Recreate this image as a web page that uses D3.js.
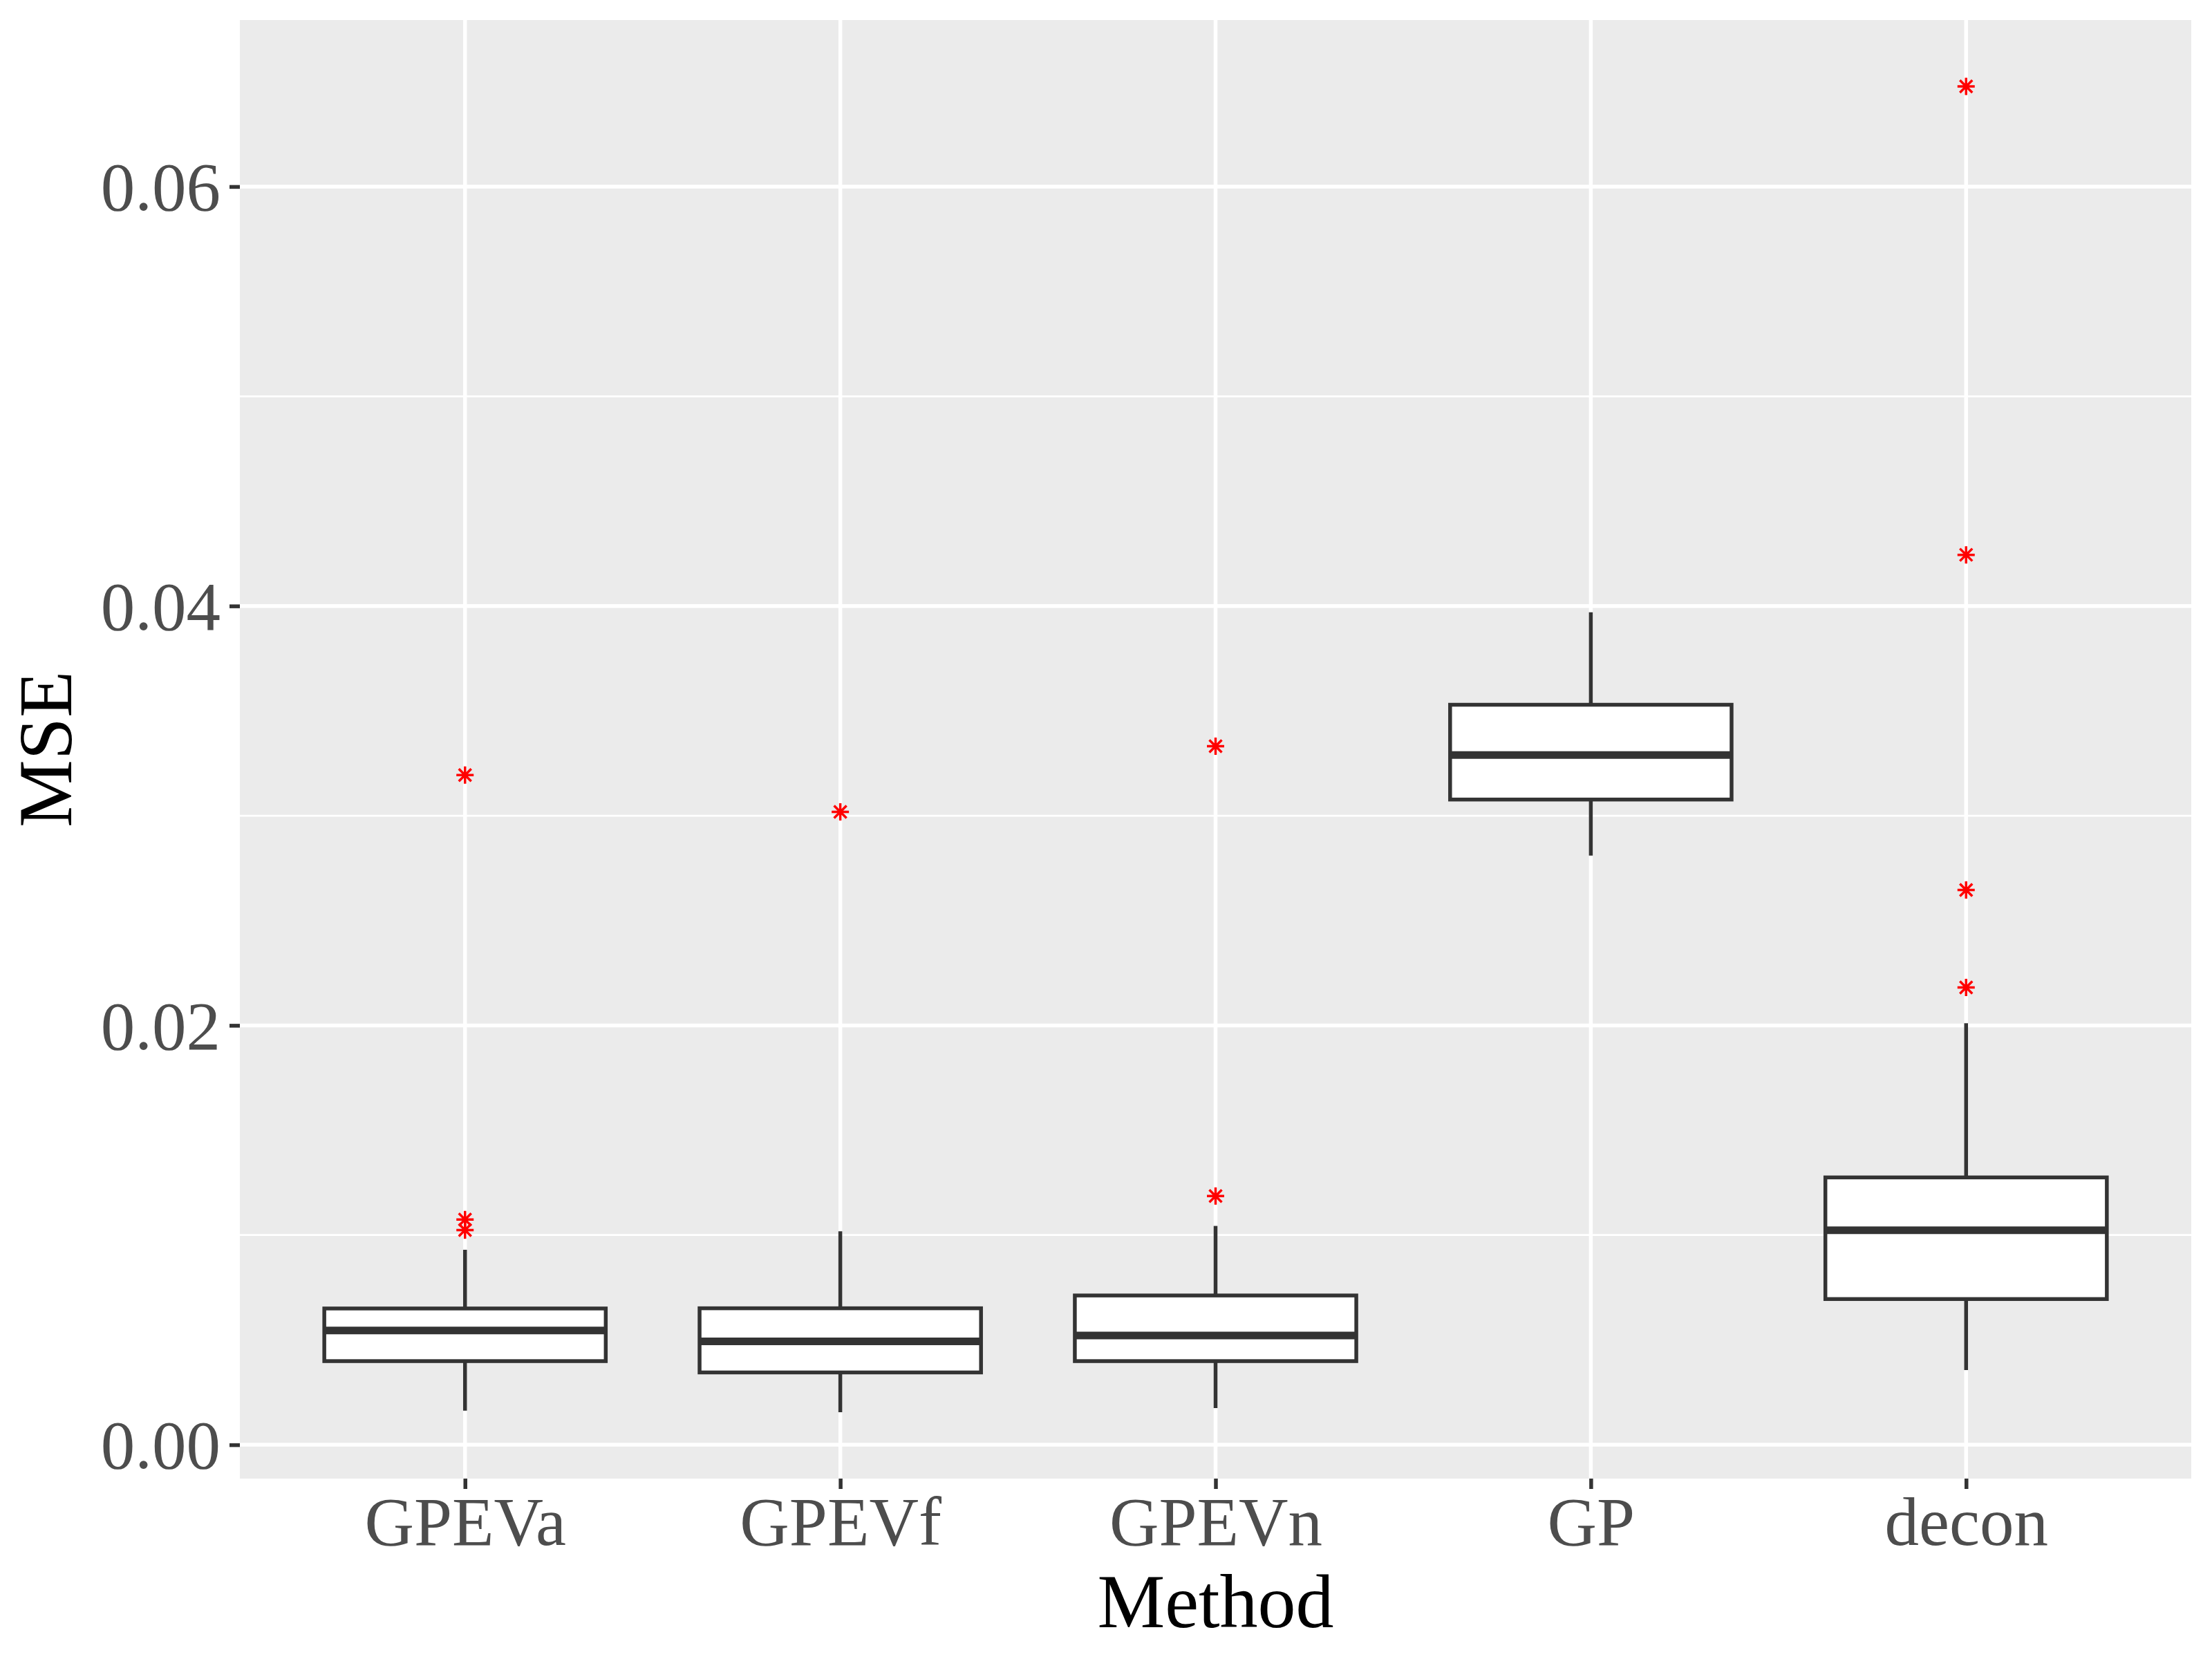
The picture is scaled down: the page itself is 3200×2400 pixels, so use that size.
<!DOCTYPE html>
<html>
<head>
<meta charset="utf-8">
<script src="https://cdn.jsdelivr.net/npm/d3@7"></script>
<style>
    body { margin: 0; background: #ffffff; }
    text { font-family: "Liberation Serif", "DejaVu Serif", serif; }
</style>
</head>
<body>
<svg id="chart" width="3200" height="2400"></svg>
<script>
// box summaries
const methods = ["GPEVa", "GPEVf", "GPEVn", "GP", "decon"];
const whiskerLow = [0.00163, 0.00155, 0.00175, 0.0281, 0.00356];
const q1 = [0.00399, 0.00345, 0.00399, 0.03077, 0.00695];
const median = [0.00545, 0.00493, 0.00521, 0.03289, 0.01023];
const q3 = [0.0065, 0.00651, 0.00712, 0.03529, 0.01275];
const whiskerHigh = [0.0093, 0.01018, 0.01044, 0.0397, 0.0201];
const outliers = [
    [0.01024, 0.01074, 0.03194],
    [0.03018],
    [0.01186, 0.03331],
    [],
    [0.02181, 0.02646, 0.04244, 0.06478]
];
const yTicks = [0, 0.02, 0.04, 0.06];
const yMinor = [0.01, 0.03, 0.05];

const attr = {
    width: 3200,
    height: 2400,
    panel: { left: 347, right: 3170, top: 29, bottom: 2139 },
    tickFont: 99,
    titleFont: 110,
    line: 5.5,
    star: 12.5
};

const translate = function(a, b) {
    return "translate(" + a + ", " + b + ")";
};

// ggplot shape 8: a plus and a cross on top of each other
const asterisk = function(r) {
    let d = r * 0.72;
    return "M" + -r + ",0L" + r + ",0" +
        "M0," + -r + "L0," + r +
        "M" + -d + "," + -d + "L" + d + "," + d +
        "M" + -d + "," + d + "L" + d + "," + -d;
};

const rows = methods.map(function(m, i) {
    return {
        name: m,
        low: whiskerLow[i],
        q1: q1[i],
        median: median[i],
        q3: q3[i],
        high: whiskerHigh[i],
        out: outliers[i]
    };
});

const allValues = rows.flatMap(d => [d.low, d.high].concat(d.out));
const lo = d3.min(allValues);
const hi = d3.max(allValues);
const pad = (hi - lo) * 0.05;

const x = d3
    .scalePoint()
    .domain(methods)
    .range([attr.panel.left, attr.panel.right])
    .padding(0.6);

const y = d3
    .scaleLinear()
    .domain([lo - pad, hi + pad])
    .range([attr.panel.bottom, attr.panel.top]);

const boxWidth = x.step() * 0.75;

const svg = d3.select("#chart");

svg.append("rect")
    .attr("width", attr.width)
    .attr("height", attr.height)
    .attr("fill", "#ffffff");

// panel and grid
svg.append("rect")
    .attr("x", attr.panel.left)
    .attr("y", attr.panel.top)
    .attr("width", attr.panel.right - attr.panel.left)
    .attr("height", attr.panel.bottom - attr.panel.top)
    .attr("fill", "#EBEBEB");

let grid = svg.append("g");

grid.selectAll(".minor")
    .data(yMinor)
    .enter()
    .append("line")
    .attr("x1", attr.panel.left)
    .attr("x2", attr.panel.right)
    .attr("y1", d => y(d))
    .attr("y2", d => y(d))
    .attr("stroke", "#ffffff")
    .attr("stroke-width", attr.line / 2);

grid.selectAll(".major")
    .data(yTicks)
    .enter()
    .append("line")
    .attr("x1", attr.panel.left)
    .attr("x2", attr.panel.right)
    .attr("y1", d => y(d))
    .attr("y2", d => y(d))
    .attr("stroke", "#ffffff")
    .attr("stroke-width", attr.line);

grid.selectAll(".vmajor")
    .data(methods)
    .enter()
    .append("line")
    .attr("x1", d => x(d))
    .attr("x2", d => x(d))
    .attr("y1", attr.panel.top)
    .attr("y2", attr.panel.bottom)
    .attr("stroke", "#ffffff")
    .attr("stroke-width", attr.line);

// boxes
let boxes = svg
    .append("g")
    .selectAll("g")
    .data(rows)
    .enter()
    .append("g")
    .attr("transform", d => translate(x(d.name), 0));

boxes.append("line")
    .attr("y1", d => y(d.low))
    .attr("y2", d => y(d.high))
    .attr("stroke", "#333333")
    .attr("stroke-width", attr.line);

boxes.append("rect")
    .attr("x", -boxWidth / 2)
    .attr("width", boxWidth)
    .attr("y", d => y(d.q3))
    .attr("height", d => y(d.q1) - y(d.q3))
    .attr("fill", "#ffffff")
    .attr("stroke", "#333333")
    .attr("stroke-width", attr.line);

boxes.append("line")
    .attr("x1", -boxWidth / 2)
    .attr("x2", boxWidth / 2)
    .attr("y1", d => y(d.median))
    .attr("y2", d => y(d.median))
    .attr("stroke", "#333333")
    .attr("stroke-width", attr.line * 2);

boxes.selectAll("path")
    .data(d => d.out)
    .enter()
    .append("path")
    .attr("d", asterisk(attr.star))
    .attr("transform", d => translate(0, y(d)))
    .attr("fill", "none")
    .attr("stroke", "#FF0000")
    .attr("stroke-width", 3.5);

// axes
let yAxis = svg
    .append("g")
    .attr("transform", translate(attr.panel.left, 0))
    .call(
        d3.axisLeft(y)
            .tickValues(yTicks)
            .tickFormat(d3.format(".2f"))
            .tickSize(15)
            .tickPadding(13)
    );

let xAxis = svg
    .append("g")
    .attr("transform", translate(0, attr.panel.bottom))
    .call(d3.axisBottom(x).tickSize(15).tickPadding(10));

[yAxis, xAxis].forEach(function(axis) {
    axis.select(".domain").remove();
    axis.selectAll(".tick line")
        .attr("stroke", "#333333")
        .attr("stroke-width", attr.line);
    axis.selectAll(".tick text")
        .attr("fill", "#4D4D4D")
        .style("font-size", attr.tickFont + "px")
        .style("font-family", "'Liberation Serif', serif");
});

yAxis.selectAll(".tick text").attr("dy", "0.34em");
xAxis.selectAll(".tick text").attr("dy", "0.72em");

svg.append("text")
    .attr("x", (attr.panel.left + attr.panel.right) / 2)
    .attr("y", 2354)
    .attr("text-anchor", "middle")
    .attr("fill", "#000000")
    .style("font-size", attr.titleFont + "px")
    .text("Method");

svg.append("text")
    .attr(
        "transform",
        translate(103, (attr.panel.top + attr.panel.bottom) / 2) + " rotate(-90)"
    )
    .attr("text-anchor", "middle")
    .attr("fill", "#000000")
    .style("font-size", attr.titleFont + "px")
    .text("MSE");
</script>
</body>
</html>
